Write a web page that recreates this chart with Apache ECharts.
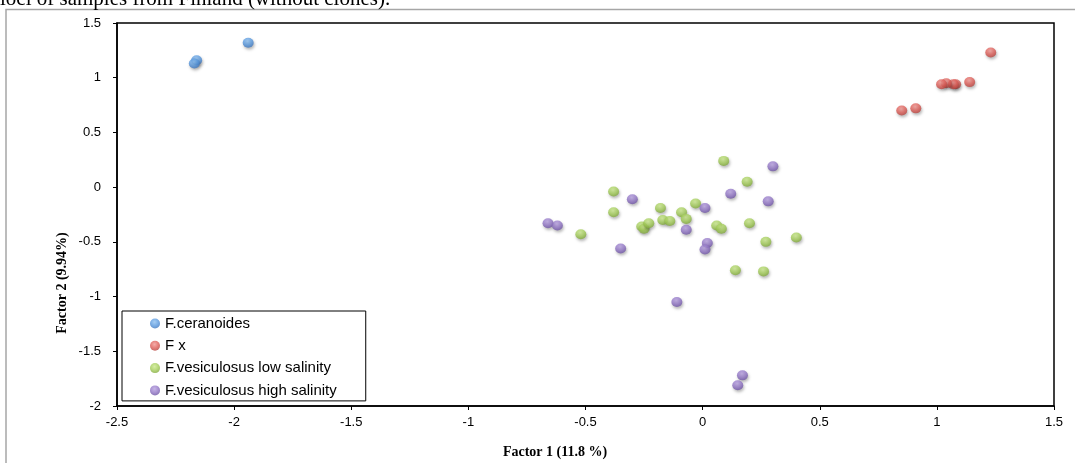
<!DOCTYPE html>
<html>
<head>
<meta charset="utf-8">
<script src="https://cdn.jsdelivr.net/npm/echarts@6/dist/echarts.min.js"></script>
<style>
  html, body { margin: 0; padding: 0; background: #fff; }
  #chart { width: 1075px; height: 463px; }
</style>
</head>
<body>
<div id="chart"></div>
<script>
// Factor scores (Factor 1, Factor 2) per sample group
const ceranoides = [[-2.16, 1.16], [-2.17, 1.13], [-1.94, 1.32]];
const fx = [[1.23, 1.23], [1.14, 0.96], [1.08, 0.94], [1.07, 0.94], [1.04, 0.95], [1.02, 0.94], [0.91, 0.72], [0.85, 0.70]];
const lowSalinity = [
  [0.09, 0.24], [0.19, 0.05], [-0.38, -0.04], [-0.38, -0.23], [-0.52, -0.43],
  [-0.18, -0.19], [-0.03, -0.15], [-0.09, -0.23], [-0.07, -0.29], [-0.17, -0.30],
  [-0.14, -0.31], [-0.26, -0.36], [-0.25, -0.38], [-0.23, -0.33], [0.06, -0.35],
  [0.08, -0.38], [0.20, -0.33], [0.27, -0.50], [0.40, -0.46], [0.14, -0.76], [0.26, -0.77]
];
const highSalinity = [
  [0.30, 0.19], [0.12, -0.06], [0.28, -0.13], [-0.30, -0.11], [0.01, -0.19],
  [-0.07, -0.39], [-0.66, -0.33], [-0.62, -0.35], [-0.35, -0.56], [0.02, -0.51],
  [0.01, -0.57], [-0.11, -1.05], [0.17, -1.72], [0.15, -1.81]
];
const seriesNames = ['F.ceranoides', 'F x', 'F.vesiculosus low salinity', 'F.vesiculosus high salinity'];
const xTicks = { min: -2.5, max: 1.5, interval: 0.5 };
const yTicks = { min: -2, max: 1.5, interval: 0.5 };

// glossy marker fill: light top, base colour, darker rim
function glossy(light, base, dark) {
  return {
    type: 'radial', x: 0.45, y: 0.35, r: 0.65,
    colorStops: [
      { offset: 0, color: light },
      { offset: 0.55, color: base },
      { offset: 1, color: dark }
    ]
  };
}
const palette = [
  glossy('#8fc0f0', '#5b9be0', '#3f78c0'),
  glossy('#f09a95', '#e0605a', '#b84540'),
  glossy('#cbe88e', '#a6cf5c', '#82aa3c'),
  glossy('#b8a2e0', '#9478c8', '#6f55a5')
];
const groups = [ceranoides, fx, lowSalinity, highSalinity];

const chart = echarts.init(document.getElementById('chart'), null, { renderer: 'canvas' });

const labelFont = 'Liberation Sans, Arial, sans-serif';
const axisCommon = {
  axisLine: { onZero: false, lineStyle: { color: '#000', width: 1.5 } },
  axisTick: { show: true, inside: false, length: 4, lineStyle: { color: '#000', width: 1 } },
  splitLine: { show: false },
  axisLabel: { color: '#000', fontFamily: labelFont, fontSize: 13 }
};

chart.setOption({
  animation: false,
  backgroundColor: '#fff',
  grid: { left: 117, top: 23, right: 21, bottom: 57, show: true, borderColor: '#000', borderWidth: 1.5, containLabel: false },
  xAxis: Object.assign({}, axisCommon, {
    type: 'value', min: xTicks.min, max: xTicks.max, interval: xTicks.interval,
    axisLabel: Object.assign({}, axisCommon.axisLabel, { margin: 10 })
  }),
  yAxis: Object.assign({}, axisCommon, {
    type: 'value', min: yTicks.min, max: yTicks.max, interval: yTicks.interval,
    axisLabel: Object.assign({}, axisCommon.axisLabel, { margin: 16 })
  }),
  legend: {
    orient: 'vertical', left: 122, top: 311,
    padding: [5, 29, 3, 28],
    itemWidth: 10, itemHeight: 10, itemGap: 7.3,
    borderColor: '#000', borderWidth: 1,
    icon: 'circle',
    textStyle: { color: '#000', fontFamily: labelFont, fontSize: 15 },
    data: seriesNames
  },
  series: groups.map((g, i) => ({
    name: seriesNames[i],
    type: 'scatter',
    data: g,
    symbol: 'circle',
    symbolSize: [11, 10],
    itemStyle: {
      color: palette[i],
      shadowBlur: 3, shadowColor: 'rgba(0,0,0,0.35)', shadowOffsetX: 1, shadowOffsetY: 2
    }
  })),
  graphic: [
    // page frame
    { type: 'polyline', shape: { points: [[6, 463], [6, 9.5], [1075, 9.5]] }, style: { stroke: '#a6a6a6', lineWidth: 1.5, fill: null } },
    // running caption above the frame
    { type: 'text', left: 0, top: -11, style: { text: 'loci of samples from Finland (without clones).', font: '21px "Liberation Serif", "Times New Roman", serif', fill: '#000' } },
    // axis titles
    { type: 'text', x: 555, y: 452, style: { text: 'Factor 1 (11.8 %)', font: 'bold 14px "Liberation Serif", "Times New Roman", serif', fill: '#000', align: 'center', verticalAlign: 'middle' } },
    { type: 'text', x: 62, y: 283, rotation: Math.PI / 2, style: { text: 'Factor 2 (9.94%)', font: 'bold 14px "Liberation Serif", "Times New Roman", serif', fill: '#000', align: 'center', verticalAlign: 'middle' } }
  ]
});
</script>
</body>
</html>
